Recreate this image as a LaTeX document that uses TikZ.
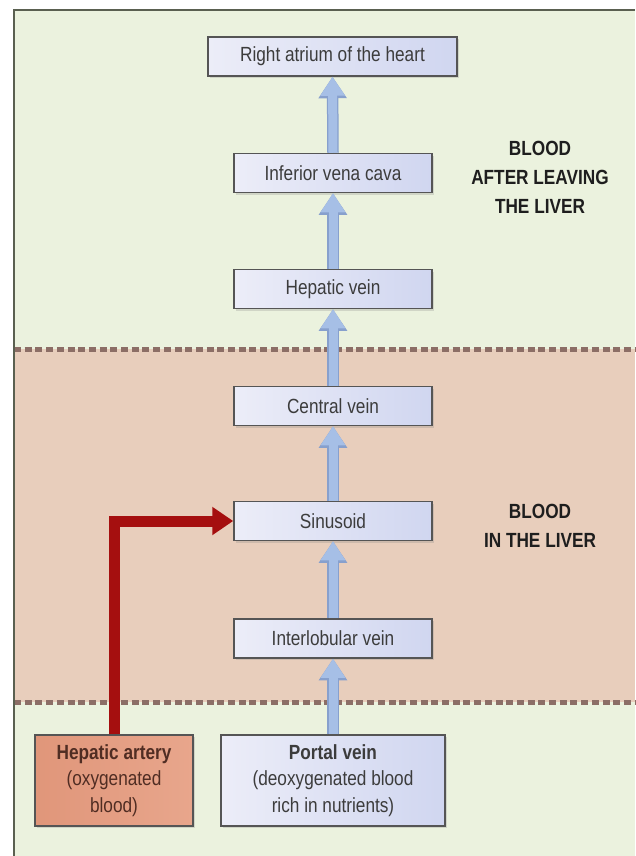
\documentclass[tikz,border=0pt]{standalone}
\usepackage{fontspec}
\newfontfamily\nar{Liberation Sans}[FakeStretch=0.84]
\usetikzlibrary{arrows.meta,shadows}
\definecolor{bggreen}{RGB}{235,242,222}
\definecolor{bandcol}{RGB}{232,206,188}
\definecolor{dotcol}{RGB}{140,110,102}
\definecolor{framecol}{RGB}{90,96,80}
\definecolor{boxl}{RGB}{236,237,248}
\definecolor{boxr}{RGB}{208,214,240}
\definecolor{boxdraw}{RGB}{85,85,85}
\definecolor{artl}{RGB}{224,150,122}
\definecolor{artr}{RGB}{232,166,140}
\definecolor{bluearr}{RGB}{166,191,230}
\definecolor{blueedge}{RGB}{135,160,205}
\definecolor{redarr}{RGB}{165,15,15}
\definecolor{txt}{RGB}{60,60,60}
\definecolor{arttxt}{RGB}{80,45,35}
\definecolor{lbltxt}{RGB}{30,30,30}
\begin{document}
\begin{tikzpicture}[x=1pt,y=1pt,
  box/.style={draw=boxdraw, line width=1.5pt, left color=boxl, right color=boxr,
    minimum height=39pt, minimum width=198pt, inner sep=0pt, align=center,
    font={\nar\fontsize{20.5}{26.5}\selectfont}, text=txt,
    drop shadow={opacity=0.25, shadow xshift=2pt, shadow yshift=-2pt}},
  artbox/.style={box, left color=artl, right color=artr, text=arttxt},
  lbl/.style={align=center, text=lbltxt, font={\nar\bfseries\fontsize{20.5}{29}\selectfont}},
  flowedge/.style={draw=blueedge, line width=11.5pt, -{Triangle[width=27pt,length=21.5pt]}},
  flow/.style={draw=bluearr, line width=9pt, -{Triangle[width=23.5pt,length=19pt]}},
  redflow/.style={draw=redarr, line width=11pt, -{Triangle[width=27pt,length=21pt]}},
  dotline/.style={draw=dotcol, line width=5pt, dash pattern=on 7pt off 3.7pt}
]
\useasboundingbox (0,0) rectangle (635,-856);
\fill[white] (0,0) rectangle (635,-856);
\fill[bggreen] (14,-10) rectangle (635,-856);
\fill[bandcol] (14,-349) rectangle (635,-702);
\draw[dotline] (14,-349) -- (635,-349);
\draw[dotline] (14,-702) -- (635,-702);
\draw[framecol, line width=1.5pt] (14,-856) -- (14,-10) -- (635,-10);

\node[box, minimum width=249pt] (ra) at (332.5,-56.5) {Right atrium of the heart};
\node[box] (ivc) at (333,-173) {Inferior vena cava};
\node[box] (hv) at (333,-289) {Hepatic vein};
\node[box] (cv) at (333,-406) {Central vein};
\node[box] (sin) at (333,-521) {Sinusoid};
\node[box] (il) at (333,-638.5) {Interlobular vein};
\node[artbox, minimum width=158pt, minimum height=91pt] (ha) at (114,-780.5)
  {{\bfseries Hepatic artery}\\(oxygenated\\blood)};
\node[box, minimum width=224pt, minimum height=91pt] (pv) at (333,-780.5)
  {{\bfseries Portal vein}\\(deoxygenated blood\\rich in nutrients)};

\node[lbl] (l1) at (540,-177) {BLOOD\\AFTER LEAVING\\THE LIVER};
\node[lbl] (l2) at (540,-526) {BLOOD\\IN THE LIVER};

\foreach \a/\b in {pv/il, il/sin, sin/cv, cv/hv, hv/ivc, ivc/ra}{
  \draw[flowedge] (\a.north) -- (\b.south);
  \draw[flow] (\a.north) -- (\b.south);
}
\draw[redflow] (ha.north) |- (sin.west);
\end{tikzpicture}
\end{document}
